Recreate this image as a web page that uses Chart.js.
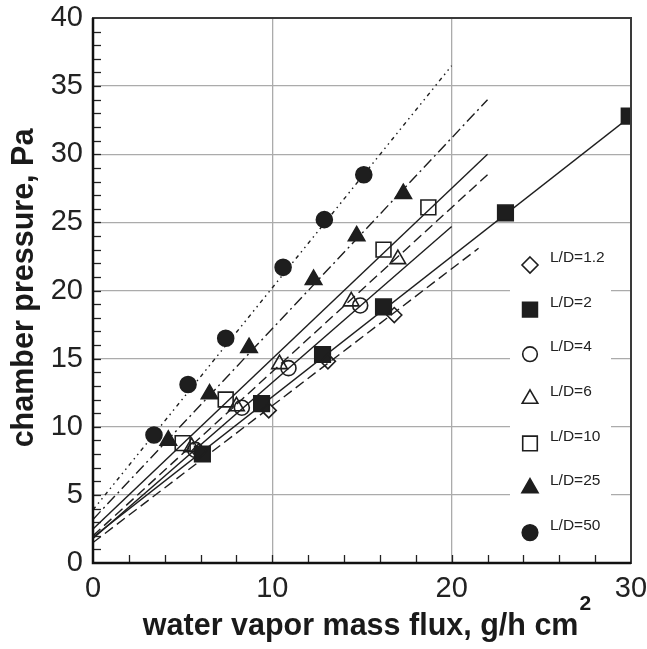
<!DOCTYPE html>
<html>
<head>
<meta charset="utf-8">
<script src="https://cdn.jsdelivr.net/npm/chart.js@4.4.1/dist/chart.umd.min.js"></script>
<style>
html,body{margin:0;padding:0;background:#fff;}
canvas{display:block;}
</style>
</head>
<body>
<canvas id="c" width="647" height="649"></canvas>
<script>
// ---- data ----
const seriesLabels = ['L/D=1.2','L/D=2','L/D=4','L/D=6','L/D=10','L/D=25','L/D=50'];

const ld12X = [5.9, 9.8, 13.1, 16.8];
const ld12Y = [8.2, 11.2, 14.8, 18.2];
const ld2X  = [6.1, 9.4, 12.8, 16.2, 23.0, 29.9];
const ld2Y  = [8.0, 11.7, 15.3, 18.8, 25.7, 32.8];
const ld4X  = [5.7, 8.3, 10.9, 14.9];
const ld4Y  = [8.3, 11.4, 14.3, 18.9];
const ld6X  = [5.5, 8.0, 10.4, 14.4, 17.0];
const ld6Y  = [8.5, 11.5, 14.6, 19.2, 22.3];
const ld10X = [5.0, 7.4, 16.2, 18.7];
const ld10Y = [8.8, 12.0, 23.0, 26.1];
const ld25X = [4.2, 6.5, 8.7, 12.3, 14.7, 17.3];
const ld25Y = [9.0, 12.4, 15.8, 20.8, 24.0, 27.1];
const ld50X = [3.4, 5.3, 7.4, 10.6, 12.9, 15.1];
const ld50Y = [9.4, 13.1, 16.5, 21.7, 25.2, 28.5];

// fitted lines (start and end)
const fit12X = [0, 21.5], fit12Y = [1.5, 23.1];
const fit2X  = [0, 30],   fit2Y  = [1.9, 32.8];
const fit4X  = [0, 20],   fit4Y  = [1.8, 24.7];
const fit6X  = [0, 22],   fit6Y  = [2.0, 28.5];
const fit10X = [0, 22],   fit10Y = [2.5, 30.0];
const fit25X = [0, 22],   fit25Y = [3.2, 34.0];
const fit50X = [0, 20],   fit50Y = [3.9, 36.5];

const xTicks = [0, 10, 20, 30];
const yTicks = [0, 5, 10, 15, 20, 25, 30, 35, 40];

const xTitle = 'water vapor mass flux, g/h cm';
const xTitleSup = '2';
const yTitle = 'chamber pressure, Pa';

// ---- build ----
const zip = (xs, ys) => xs.map((x, i) => ({x, y: ys[i]}));
const INK = '#1e1e1e';
const FONT = '"Liberation Sans", Arial, sans-serif';

const markerDefs = [
  {x: ld12X, y: ld12Y, style: 'rectRot', r: 7.5, fill: false, lr: 8},
  {x: ld2X,  y: ld2Y,  style: 'rect',    r: 11,  fill: true,  lr: 10.5},
  {x: ld4X,  y: ld4Y,  style: 'circle',  r: 7.5, fill: false, lr: 7.3},
  {x: ld6X,  y: ld6Y,  style: 'triangle',r: 9,   fill: false, lr: 9},
  {x: ld10X, y: ld10Y, style: 'rect',    r: 10.5,fill: false, lr: 10.3},
  {x: ld25X, y: ld25Y, style: 'triangle',r: 9.5, fill: true,  lr: 9.3},
  {x: ld50X, y: ld50Y, style: 'circle',  r: 8,   fill: true,  lr: 7.8},
];
const fitDefs = [
  {x: fit12X, y: fit12Y, dash: [10, 5]},
  {x: fit2X,  y: fit2Y,  dash: []},
  {x: fit4X,  y: fit4Y,  dash: []},
  {x: fit6X,  y: fit6Y,  dash: [10, 5]},
  {x: fit10X, y: fit10Y, dash: []},
  {x: fit25X, y: fit25Y, dash: [11, 4, 2, 4]},
  {x: fit50X, y: fit50Y, dash: [4, 4, 1.5, 4, 1.5, 4]},
];

const datasets = [];
fitDefs.forEach((f, i) => datasets.push({
  label: 'fit ' + seriesLabels[i], isFit: true,
  data: zip(f.x, f.y), showLine: true, pointRadius: 0, pointHoverRadius: 0,
  borderColor: INK, borderWidth: 1.4, borderDash: f.dash, borderCapStyle: 'butt',
  fill: false, order: 10
}));
markerDefs.forEach((m, i) => datasets.push({
  label: seriesLabels[i], isFit: false,
  data: zip(m.x, m.y), showLine: false,
  pointStyle: m.style, pointRadius: m.r, pointHoverRadius: m.r,
  pointBorderColor: INK, pointBackgroundColor: m.fill ? INK : 'rgba(0,0,0,0)',
  pointBorderWidth: 1.6, order: 1
}));

function drawMarker(ctx, style, r, fill, x, y) {
  ctx.save();
  ctx.beginPath();
  if (style === 'circle') {
    ctx.arc(x, y, r, 0, Math.PI * 2);
  } else if (style === 'rect') {
    const s = r * Math.SQRT1_2;
    ctx.rect(x - s, y - s, 2 * s, 2 * s);
  } else if (style === 'rectRot') {
    ctx.moveTo(x, y - r); ctx.lineTo(x + r, y); ctx.lineTo(x, y + r); ctx.lineTo(x - r, y); ctx.closePath();
  } else if (style === 'triangle') {
    for (let k = 0; k < 3; k++) {
      const a = k * 2 * Math.PI / 3;
      const px = x + Math.sin(a) * r, py = y - Math.cos(a) * r;
      if (k === 0) ctx.moveTo(px, py); else ctx.lineTo(px, py);
    }
    ctx.closePath();
  }
  ctx.lineWidth = 1.6;
  ctx.strokeStyle = INK;
  if (fill) { ctx.fillStyle = INK; ctx.fill(); }
  ctx.stroke();
  ctx.restore();
}

const LEG = {x: 510, y: 242, w: 101, h: 300, markX: 530, firstY: 265, step: 44.6};

const decor = {
  id: 'decor',
  beforeDatasetsDraw(chart) {
    const ctx = chart.ctx;
    ctx.save();
    ctx.fillStyle = '#fff';
    ctx.fillRect(LEG.x, LEG.y, LEG.w, LEG.h);
    ctx.restore();
  },
  afterDatasetsDraw(chart) {
    const ctx = chart.ctx, a = chart.chartArea;
    const xs = chart.scales.x, ys = chart.scales.y;
    ctx.save();
    // inward ticks
    ctx.strokeStyle = '#222';
    ctx.lineWidth = 1.3;
    for (let v = 1; v < 40; v++) {
      const py = Math.round(ys.getPixelForValue(v)) + 0.5;
      ctx.beginPath(); ctx.moveTo(a.left, py); ctx.lineTo(a.left + 8, py); ctx.stroke();
    }
    for (let v = 2; v < 30; v += 2) {
      const px = Math.round(xs.getPixelForValue(v)) + 0.5;
      ctx.beginPath(); ctx.moveTo(px, a.bottom); ctx.lineTo(px, a.bottom - 8); ctx.stroke();
    }
    // frame
    ctx.strokeStyle = '#3a3a3a';
    ctx.lineWidth = 2;
    ctx.strokeRect(a.left, a.top, a.right - a.left, a.bottom - a.top);
    ctx.strokeStyle = '#111';
    ctx.lineWidth = 2.5;
    ctx.beginPath();
    ctx.moveTo(a.left, a.top); ctx.lineTo(a.left, a.bottom); ctx.lineTo(a.right, a.bottom);
    ctx.stroke();
    // legend entries
    ctx.font = '15.5px ' + FONT;
    ctx.fillStyle = '#222';
    ctx.textBaseline = 'middle';
    ctx.textAlign = 'left';
    markerDefs.forEach((m, i) => {
      const cy = LEG.firstY + i * LEG.step;
      drawMarker(ctx, m.style, m.lr, m.fill, LEG.markX, cy);
      ctx.fillText(seriesLabels[i], 550, cy - 7);
    });
    ctx.restore();
  },
  afterDraw(chart) {
    const ctx = chart.ctx;
    ctx.save();
    ctx.fillStyle = '#1a1a1a';
    ctx.textBaseline = 'alphabetic';
    // x title with superscript
    const big = 'bold 30.5px ' + FONT, small = 'bold 21px ' + FONT;
    ctx.font = big;
    const w1 = ctx.measureText(xTitle).width;
    ctx.font = small;
    const w2 = ctx.measureText(xTitleSup).width;
    const cx = 367;
    const x0 = cx - (w1 + w2 + 1) / 2;
    ctx.textAlign = 'left';
    ctx.font = big;
    ctx.fillText(xTitle, x0, 635);
    ctx.font = small;
    ctx.fillText(xTitleSup, x0 + w1 + 1, 610);
    // y title
    ctx.translate(33, 288);
    ctx.rotate(-Math.PI / 2);
    ctx.textAlign = 'center';
    ctx.font = big;
    ctx.fillText(yTitle, 0, 0);
    ctx.restore();
  }
};

new Chart(document.getElementById('c'), {
  type: 'scatter',
  data: {datasets},
  options: {
    responsive: false,
    animation: false,
    devicePixelRatio: 1,
    layout: {padding: {left: 0, top: 18, right: 16, bottom: 0}},
    plugins: {legend: {display: false}, tooltip: {enabled: false}},
    scales: {
      x: {
        type: 'linear', min: 0, max: 30,
        afterFit: s => { s.height = 86; s.paddingLeft = 0; s.paddingRight = 0; },
        afterBuildTicks: s => { s.ticks = xTicks.map(v => ({value: v})); },
        ticks: {font: {family: FONT, size: 29}, color: '#222', padding: 9, maxRotation: 0, autoSkip: false},
        grid: {drawTicks: false, lineWidth: 1.3,
               color: c => (c.tick && c.tick.value > 0 && c.tick.value < 30) ? '#ababab' : 'rgba(0,0,0,0)'},
        border: {display: false}
      },
      y: {
        type: 'linear', min: 0, max: 40,
        afterFit: s => { s.width = 93; s.paddingTop = 0; s.paddingBottom = 0; },
        afterBuildTicks: s => { s.ticks = yTicks.map(v => ({value: v})); },
        ticks: {font: {family: FONT, size: 29}, color: '#222', padding: 10, autoSkip: false},
        grid: {drawTicks: false, lineWidth: 1.3,
               color: c => (c.tick && c.tick.value > 0 && c.tick.value < 40) ? '#ababab' : 'rgba(0,0,0,0)'},
        border: {display: false}
      }
    }
  },
  plugins: [decor]
});
</script>
</body>
</html>
